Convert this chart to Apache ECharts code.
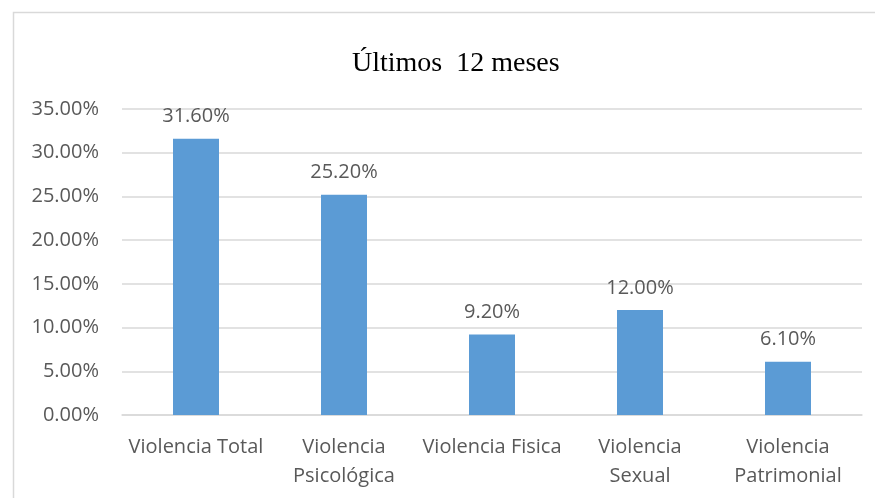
<!DOCTYPE html>
<html>
<head>
<meta charset="utf-8">
<script src="https://cdn.jsdelivr.net/npm/echarts@6/dist/echarts.min.js"></script>
<style>
    html, body { margin: 0; padding: 0; background: #fff; }
    #chart { width: 875px; height: 498px; }
</style>
</head>
<body>
<div id="chart"></div>
<script>
// 数据
var categories = ['Violencia Total', 'Violencia\nPsicológica', 'Violencia Fisica', 'Violencia\nSexual', 'Violencia\nPatrimonial'];
var values = [31.6, 25.2, 9.2, 12.0, 6.1];
var yTicks = [0, 5, 10, 15, 20, 25, 30, 35];
var titleText = 'Últimos  12 meses';

var textColor = '#595959';
var labelFont = '"Open Sans", "Liberation Sans", sans-serif';

function chartRender() {
    var chart = echarts.init(document.getElementById('chart'));
    var option = {
        animation: false,
        // 外框
        graphic: [{
            type: 'rect',
            left: 11,
            top: 10,
            shape: { width: 900, height: 520 },
            style: { fill: 'none', stroke: '#d9d9d9', lineWidth: 1.5 },
            silent: true
        }],
        title: {
            text: titleText,
            left: 347,
            top: 45,
            textStyle: {
                fontFamily: '"Liberation Serif", "Times New Roman", serif',
                fontWeight: 'normal',
                fontSize: 28,
                color: '#000'
            }
        },
        grid: {
            left: 122,
            right: 13,
            top: 109,
            bottom: 83
        },
        xAxis: {
            type: 'category',
            data: categories,
            axisTick: { show: false },
            axisLine: { lineStyle: { color: '#d9d9d9', width: 1.5 } },
            axisLabel: {
                color: textColor,
                fontFamily: labelFont,
                fontSize: 20,
                lineHeight: 29,
                margin: 18,
                interval: 0
            }
        },
        yAxis: {
            type: 'value',
            min: yTicks[0],
            max: yTicks[yTicks.length - 1],
            interval: yTicks[1] - yTicks[0],
            axisLine: { show: false },
            axisTick: { show: false },
            splitLine: { lineStyle: { color: '#d9d9d9', width: 1.5 } },
            axisLabel: {
                color: textColor,
                fontFamily: labelFont,
                fontSize: 20,
                margin: 23,
                formatter: function (v) { return v.toFixed(2) + '%'; }
            }
        },
        series: [{
            type: 'bar',
            data: values,
            barWidth: 46,
            itemStyle: { color: '#5B9BD5' },
            label: {
                show: true,
                position: 'top',
                distance: 12,
                color: textColor,
                fontFamily: labelFont,
                fontSize: 20,
                formatter: function (p) { return p.value.toFixed(2) + '%'; }
            }
        }]
    };
    chart.setOption(option);
}
chartRender();
</script>
</body>
</html>
